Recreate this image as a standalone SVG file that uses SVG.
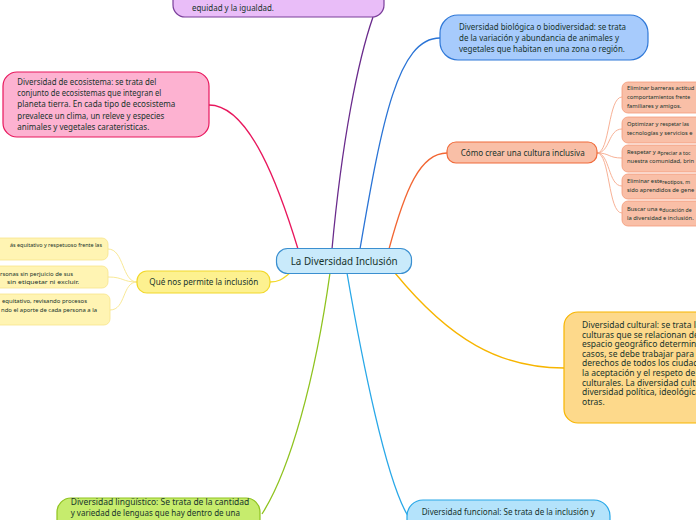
<svg xmlns="http://www.w3.org/2000/svg" width="696" height="520" viewBox="0 0 696 520">
<style>
text{font-family:"Noto Sans","Open Sans",sans-serif;fill:#17332c}
.t85{font-size:8.5px}
.t6{font-size:5.8px}
.s{font-size:5.2px}
.c{fill:none;stroke-width:1.3}
.cl{fill:none;stroke-width:0.9}
</style>
<rect width="696" height="520" fill="#ffffff"/>
<g id="connectors">
<path class="c" stroke="#6a2b8c" d="M332,249 C342,140 358,60 373,17"/>
<path class="c" stroke="#2a74d6" d="M360,249 C382,120 398,38 440,38"/>
<path class="c" stroke="#f26633" d="M389,249 C405,190 420,153 447,153"/>
<path class="c" stroke="#e8175d" d="M298,249 C280,190 250,105 209,105"/>
<path class="c" stroke="#f2d82a" d="M291,272 C282,280 278,282 270,282"/>
<path class="c" stroke="#f7b500" d="M395,273 C450,340 500,368 564,368"/>
<path class="c" stroke="#8fc31f" d="M330,273 C315,380 290,470 262,514"/>
<path class="c" stroke="#29a8e8" d="M347,273 C362,360 386,480 408,516"/>
<path class="cl" stroke="#f7e58a" d="M137,282 C122,282 124,249 108,249"/>
<path class="cl" stroke="#f7e58a" d="M137,282 C122,282 124,277 108,277"/>
<path class="cl" stroke="#f7e58a" d="M137,282 C122,282 126,310 110,310"/>
<path class="cl" stroke="#f6a88a" d="M597,153 C610,153 608,97 622,97"/>
<path class="cl" stroke="#f6a88a" d="M597,153 C610,153 608,129 622,129"/>
<path class="cl" stroke="#f6a88a" d="M597,153 C610,153 608,158 622,158"/>
<path class="cl" stroke="#f6a88a" d="M597,153 C610,153 608,186 622,186"/>
<path class="cl" stroke="#f6a88a" d="M597,153 C610,153 608,213 622,213"/>
</g>
<g id="n-purple">
<rect x="173" y="-30" width="211" height="47" rx="12" fill="#e9bdf8" stroke="#7a3e9a" stroke-width="1.2"/>
<text class="t85" x="192" y="10.5" textLength="82" lengthAdjust="spacingAndGlyphs">equidad y la igualdad.</text>
</g>
<g id="n-bio">
<rect x="440" y="15" width="208" height="45" rx="18" fill="#a7cbfc" stroke="#2f78d8" stroke-width="1.2"/>
<text class="t85" x="459" y="29.5" textLength="167" lengthAdjust="spacingAndGlyphs">Diversidad biológica o biodiversidad: se trata</text>
<text class="t85" x="459" y="40.8" textLength="160" lengthAdjust="spacingAndGlyphs">de la variación y abundancia de animales y</text>
<text class="t85" x="459" y="52" textLength="166" lengthAdjust="spacingAndGlyphs">vegetales que habitan en una zona o región.</text>
</g>
<g id="n-eco">
<rect x="3" y="72" width="206" height="65" rx="14" fill="#fdb2d1" stroke="#e8175d" stroke-width="1.2"/>
<text class="t85" x="17.3" y="84.7" textLength="139" lengthAdjust="spacingAndGlyphs">Diversidad de ecosistema: se trata del</text>
<text class="t85" x="17.3" y="96" textLength="144" lengthAdjust="spacingAndGlyphs">conjunto de ecosistemas que integran el</text>
<text class="t85" x="17.3" y="107.3" textLength="158" lengthAdjust="spacingAndGlyphs">planeta tierra. En cada tipo de ecosistema</text>
<text class="t85" x="17.3" y="118.6" textLength="147" lengthAdjust="spacingAndGlyphs">prevalece un clima, un releve y especies</text>
<text class="t85" x="17.3" y="129.9" textLength="132" lengthAdjust="spacingAndGlyphs">animales y vegetales carateristicas.</text>
</g>
<g id="n-inclusiva">
<rect x="447" y="142" width="150" height="21" rx="9" fill="#f9bfa7" stroke="#f06a3a" stroke-width="1.2"/>
<text class="t85" x="460.7" y="156" textLength="124" lengthAdjust="spacingAndGlyphs">Cómo crear una cultura inclusiva</text>
</g>
<g id="n-inc1">
<rect x="622" y="82" width="90" height="31" rx="6" fill="#f9bfa7" stroke="#f49a78" stroke-width="0.8"/>
<text class="t6" x="627" y="90">Eliminar barreras actitud</text>
<text class="t6" x="627" y="99">comportami<tspan class="s" dy="-0.5">entos frente</tspan></text>
<text class="t6" x="627" y="108">familiares y amigos.</text>
</g>
<g id="n-inc2">
<rect x="622" y="117" width="90" height="26" rx="6" fill="#f9bfa7" stroke="#f49a78" stroke-width="0.8"/>
<text class="t6" x="627" y="126">Optimizar y re<tspan class="s" dy="-0.5">spetar las</tspan></text>
<text class="t6" x="627" y="135">tecnologías y servicios e</text>
</g>
<g id="n-inc3">
<rect x="622" y="145" width="90" height="27" rx="6" fill="#f9bfa7" stroke="#f49a78" stroke-width="0.8"/>
<text class="t6" x="627" y="154">Respetar y a<tspan class="s" dy="0.5">preciar a toc</tspan></text>
<text class="t6" x="627" y="163">nuestra comunidad, brin</text>
</g>
<g id="n-inc4">
<rect x="622" y="174" width="90" height="25" rx="6" fill="#f9bfa7" stroke="#f49a78" stroke-width="0.8"/>
<text class="t6" x="627" y="183">Eliminar este<tspan class="s" dy="0.5">reotipos, m</tspan></text>
<text class="t6" x="627" y="192">sido aprendidos de gene</text>
</g>
<g id="n-inc5">
<rect x="622" y="201" width="90" height="25" rx="6" fill="#f9bfa7" stroke="#f49a78" stroke-width="0.8"/>
<text class="t6" x="627" y="211">Buscar una e<tspan class="s" dy="0.5">ducación de</tspan></text>
<text class="t6" x="627" y="220">la diversidad e inclusión.</text>
</g>
<g id="n-center">
<rect x="276.5" y="248.5" width="135" height="25" rx="11" fill="#c9eafb" stroke="#3a8fd0" stroke-width="1.2"/>
<text x="290.7" y="265.3" style="font-size:10.5px" textLength="107" lengthAdjust="spacingAndGlyphs">La Diversidad Inclusión</text>
</g>
<g id="n-que">
<rect x="137" y="271" width="133" height="22" rx="10" fill="#fdf190" stroke="#f2d82a" stroke-width="1.2"/>
<text class="t85" x="149.3" y="284.5" textLength="109" lengthAdjust="spacingAndGlyphs">Qué nos permite la inclusión</text>
</g>
<g id="n-que1">
<rect x="-20" y="238" width="128" height="22" rx="6" fill="#fff4b3" stroke="#f7e58a" stroke-width="0.8"/>
<text class="t6" x="10" y="247" textLength="92" lengthAdjust="spacingAndGlyphs">ás equitativo y respetuoso frente las</text>
</g>
<g id="n-que2">
<rect x="-20" y="266" width="128" height="22" rx="6" fill="#fff4b3" stroke="#f7e58a" stroke-width="0.8"/>
<text class="t6" x="0" y="275.5" textLength="73" lengthAdjust="spacingAndGlyphs">rsonas sin perjuicio de sus</text>
<text class="t6" x="7" y="284" textLength="72" lengthAdjust="spacingAndGlyphs">sin etiquetar ni excluir.</text>
</g>
<g id="n-que3">
<rect x="-20" y="294" width="130" height="31" rx="6" fill="#fff4b3" stroke="#f7e58a" stroke-width="0.8"/>
<text class="t6" x="2" y="303" textLength="85" lengthAdjust="spacingAndGlyphs">equitativo, revisando procesos</text>
<text class="t6" x="1" y="312" textLength="96" lengthAdjust="spacingAndGlyphs">ndo el aporte de cada persona a la</text>
</g>
<g id="n-cultural">
<rect x="564" y="312" width="160" height="111" rx="14" fill="#fdd98b" stroke="#f7b500" stroke-width="1.2"/>
<text class="t85" x="582" y="328">Diversidad cultural: se trata la</text>
<text class="t85" x="582" y="337.6">culturas que se relacionan den</text>
<text class="t85" x="582" y="347.2">espacio geográfico determinad</text>
<text class="t85" x="582" y="356.8">casos, se debe trabajar para ga</text>
<text class="t85" x="582" y="366.4">derechos de todos los ciudada</text>
<text class="t85" x="582" y="376">la aceptación y el respeto de to</text>
<text class="t85" x="582" y="385.6">culturales. La diversidad cultur</text>
<text class="t85" x="582" y="395.2">diversidad política, ideológica,</text>
<text class="t85" x="582" y="404.8">otras.</text>
</g>
<g id="n-ling">
<rect x="57" y="498" width="203" height="40" rx="14" fill="#c6ec6d" stroke="#8fc31f" stroke-width="1.2"/>
<text class="t85" x="70.7" y="504.7" textLength="178.6" lengthAdjust="spacingAndGlyphs">Diversidad lingüístico: Se trata de la cantidad</text>
<text class="t85" x="70.7" y="516.3" textLength="169.3" lengthAdjust="spacingAndGlyphs">y variedad de lenguas que hay dentro de una</text>
</g>
<g id="n-func">
<rect x="407" y="500" width="203" height="40" rx="16" fill="#b4e3fb" stroke="#29a8e8" stroke-width="1.2"/>
<text class="t85" x="421.7" y="515" textLength="173.3" lengthAdjust="spacingAndGlyphs">Diversidad funcional: Se trata de la inclusión y</text>
</g>
</svg>
